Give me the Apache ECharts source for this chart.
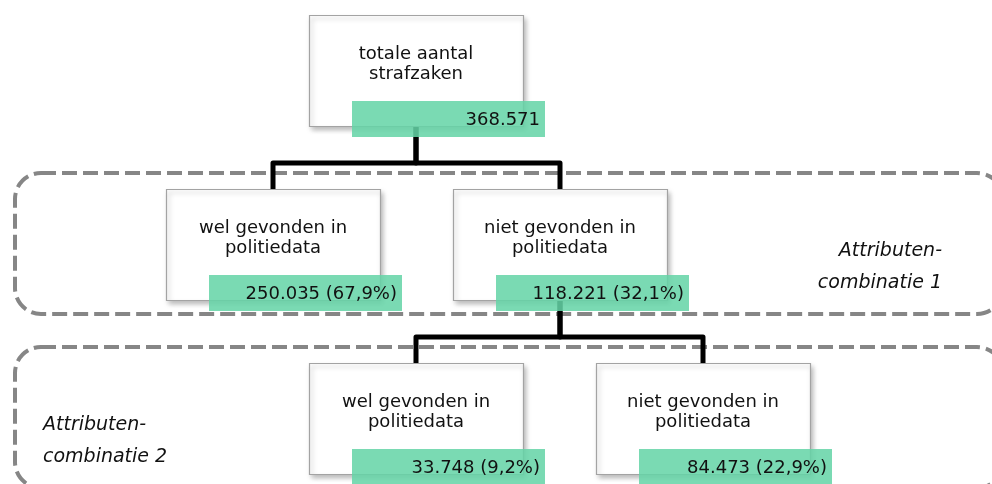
<!DOCTYPE html>
<html>
<head>
<meta charset="utf-8">
<script src="https://cdn.jsdelivr.net/npm/echarts@6/dist/echarts.min.js"></script>
<style>
html,body{margin:0;padding:0;background:#fff;}
#chart{width:992px;height:484px;}
</style>
</head>
<body>
<div id="chart"></div>
<script>
// ---- data ----
const nodeLabels = ['totale aantal\nstrafzaken', 'wel gevonden in\npolitiedata', 'niet gevonden in\npolitiedata', 'wel gevonden in\npolitiedata', 'niet gevonden in\npolitiedata'];
const nodeCounts = [368571, 250035, 118221, 33748, 84473];
const nodeShares = [null, 67.9, 32.1, 9.2, 22.9];
const nodeParents = [-1, 0, 0, 2, 2];
const nodeLevels = [0, 1, 1, 2, 2];
const groupLabels = ['Attributen-\ncombinatie 1', 'Attributen-\ncombinatie 2'];
const groupLevels = [1, 2];

// ---- layout (not data) ----
const LEVEL_TOP = [15, 189, 363];
const NODE_CX = [416, 273, 560, 416, 703];
const BOX_W = 214, BOX_H = 111;
const TAG_DX = 43, TAG_DY = 86, TAG_W = 193, TAG_H = 36;
const GROUP_X0 = 15, GROUP_X1 = 1003, GROUP_DY = -16, GROUP_H = 141;
const FONT = 'DejaVu Sans, Verdana, sans-serif';

function fmtInt(n){ return String(n).replace(/\B(?=(\d{3})+(?!\d))/g, '.'); }
function fmtTag(i){
  let s = fmtInt(nodeCounts[i]);
  if (nodeShares[i] != null) s += ' (' + nodeShares[i].toFixed(1).replace('.', ',') + '%)';
  return s;
}

const chart = echarts.init(document.getElementById('chart'), null, {renderer: 'canvas'});

function renderGroup(params, api){
  const i = api.value(0);
  const lvl = groupLevels[i];
  const p0 = api.coord([GROUP_X0, LEVEL_TOP[lvl] + GROUP_DY]);
  const p1 = api.coord([GROUP_X1, LEVEL_TOP[lvl] + GROUP_DY + GROUP_H]);
  const rightAligned = (i === 0);
  const tp = rightAligned ? api.coord([942, 0]) : api.coord([43, 0]);
  return {
    type: 'group',
    children: [
      {type: 'rect', shape: {x: p0[0], y: p0[1], width: p1[0]-p0[0], height: p1[1]-p0[1], r: 26},
       style: {fill: 'none', stroke: '#868686', lineWidth: 4, lineDash: [15, 6]}},
      {type: 'text', style: {text: groupLabels[i], x: tp[0], y: p0[1] + 94,
        fontFamily: FONT, fontSize: 19, fontStyle: 'italic', lineHeight: 32,
        align: rightAligned ? 'right' : 'left', verticalAlign: 'middle', fill: '#111'}}
    ]
  };
}

function renderLink(params, api){
  const c = api.value(0);
  const p = nodeParents[c];
  const childTop = LEVEL_TOP[nodeLevels[c]];
  const hY = childTop - 26;
  const parentBottom = LEVEL_TOP[nodeLevels[p]] + BOX_H;
  const pts = [[NODE_CX[c], childTop], [NODE_CX[c], hY], [NODE_CX[p], hY], [NODE_CX[p], parentBottom]].map(q => api.coord(q));
  return {type: 'polyline', shape: {points: pts},
    style: {stroke: '#000', lineWidth: 5, fill: null, lineJoin: 'round'}};
}

function renderNode(params, api){
  const i = api.value(0);
  const top = LEVEL_TOP[nodeLevels[i]];
  const p0 = api.coord([NODE_CX[i] - BOX_W/2, top]);
  const p1 = api.coord([NODE_CX[i] + BOX_W/2, top + BOX_H]);
  const t0 = api.coord([NODE_CX[i] - BOX_W/2 + TAG_DX, top + TAG_DY]);
  const t1 = api.coord([NODE_CX[i] - BOX_W/2 + TAG_DX + TAG_W, top + TAG_DY + TAG_H]);
  return {
    type: 'group',
    children: [
      {type: 'rect', shape: {x: p0[0]+0.5, y: p0[1]+0.5, width: p1[0]-p0[0], height: p1[1]-p0[1]},
       style: {fill: '#fff', stroke: '#a3a3a3', lineWidth: 1.2, shadowBlur: 5, shadowOffsetX: 2, shadowOffsetY: 3, shadowColor: 'rgba(0,0,0,0.28)'}},
      {type: 'text', style: {text: nodeLabels[i], x: (p0[0]+p1[0])/2, y: p0[1] + 49,
        fontFamily: FONT, fontSize: 18, lineHeight: 20, align: 'center', verticalAlign: 'middle', fill: '#111'}},
      {type: 'rect', shape: {x: t0[0], y: t0[1], width: t1[0]-t0[0], height: t1[1]-t0[1]},
       style: {fill: 'rgba(100,212,166,0.86)'}},
      {type: 'text', style: {text: fmtTag(i), x: t1[0] - 5, y: (t0[1]+t1[1])/2 + 1,
        fontFamily: FONT, fontSize: 18, align: 'right', verticalAlign: 'middle', fill: '#111'}}
    ]
  };
}

const option = {
  animation: false,
  grid: {left: 0, right: 0, top: 0, bottom: 0},
  xAxis: {type: 'value', min: 0, max: 992, show: false},
  yAxis: {type: 'value', min: 0, max: 484, inverse: true, show: false},
  series: [
    {type: 'custom', z: 1, clip: false, renderItem: renderGroup, data: groupLabels.map((_, i) => [i])},
    {type: 'custom', z: 2, clip: false, renderItem: renderLink, data: nodeParents.map((p, i) => [i]).filter(d => nodeParents[d[0]] >= 0)},
    {type: 'custom', z: 3, clip: false, renderItem: renderNode, data: nodeLabels.map((_, i) => [i])}
  ]
};
chart.setOption(option);
</script>
</body>
</html>
